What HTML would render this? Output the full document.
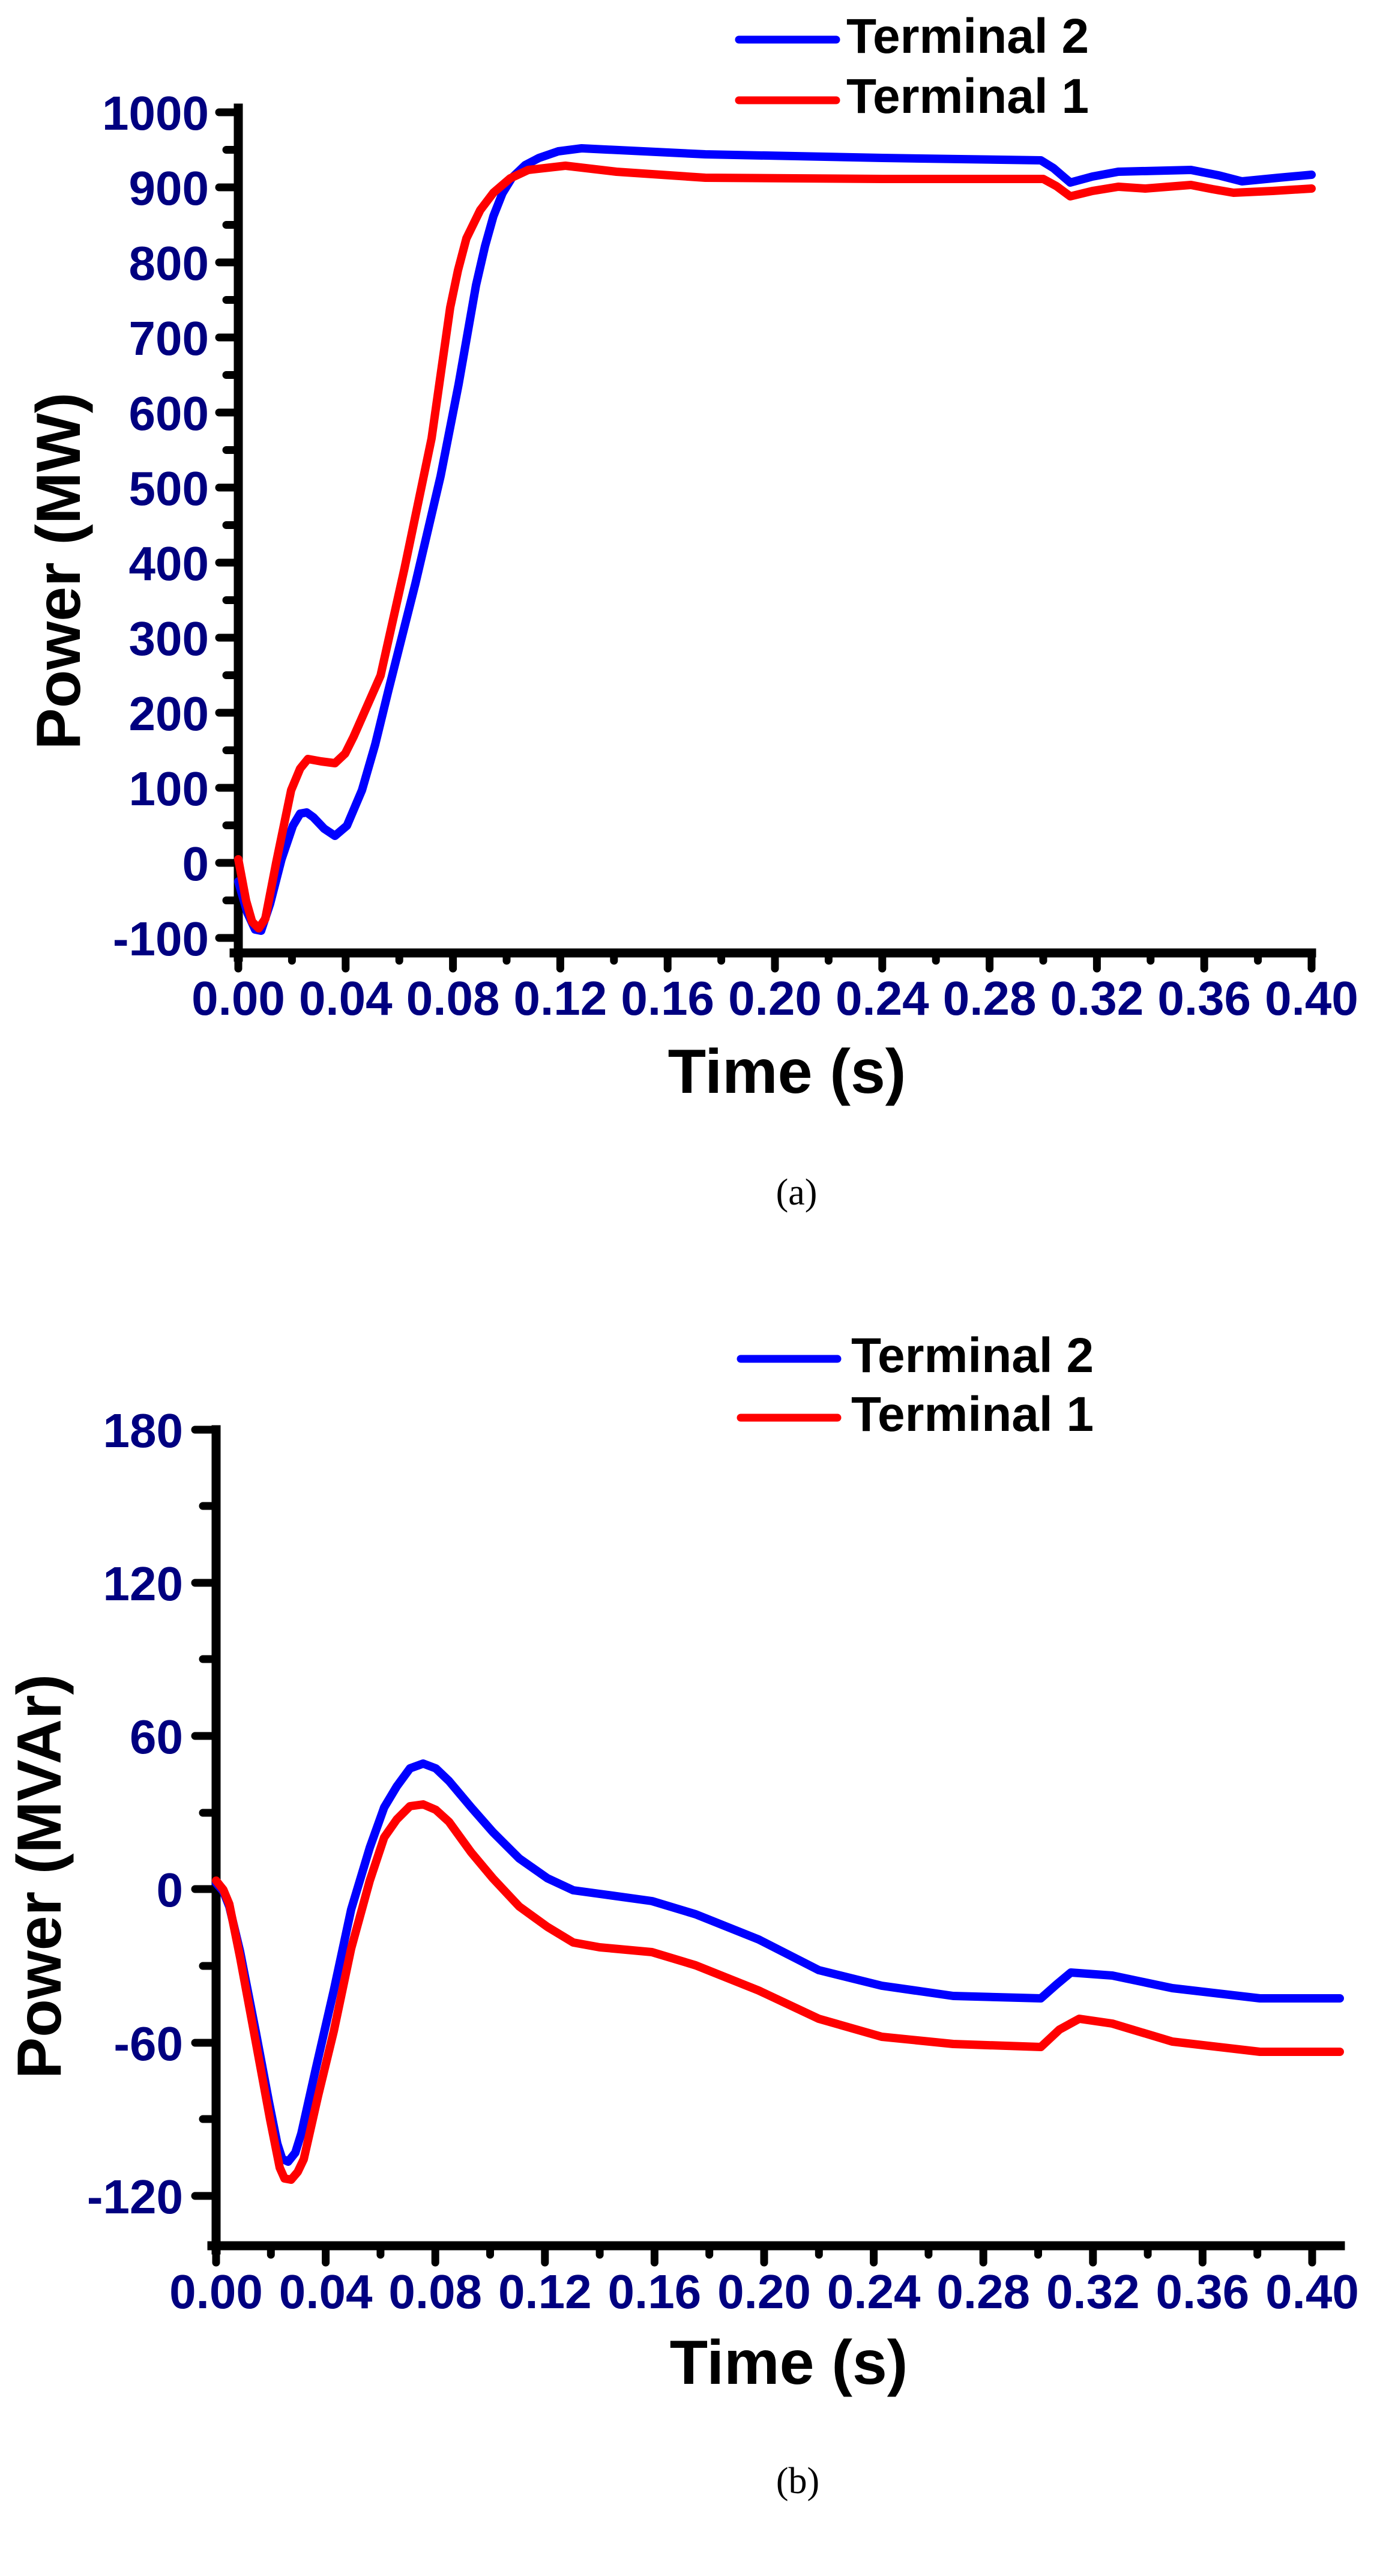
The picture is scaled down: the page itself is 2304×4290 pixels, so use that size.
<!DOCTYPE html>
<html><head><meta charset="utf-8"><style>
html,body{margin:0;padding:0;background:#fff;}
svg{display:block;}
.tl{font-family:"Liberation Sans",Arial,sans-serif;font-weight:bold;font-size:80px;fill:#000080;}
.ti{font-family:"Liberation Sans",Arial,sans-serif;font-weight:bold;font-size:104px;fill:#000;}
.lg{font-family:"Liberation Sans",Arial,sans-serif;font-weight:bold;font-size:82px;fill:#000;}
.cap{font-family:"Liberation Serif","Times New Roman",serif;font-size:62px;fill:#000;}
</style></head><body>
<svg width="2304" height="4290" viewBox="0 0 2304 4290" xmlns="http://www.w3.org/2000/svg">
<rect width="2304" height="4290" fill="#fff"/>
<!-- Chart A -->
<g stroke="#000" stroke-linecap="round" fill="none">
<path d="M397 180 V1594 M390 1587 H2185" stroke-width="15" stroke-linecap="square"/>
<path stroke-width="13" d="M397 1587V1613 M575.8 1587V1613 M754.6 1587V1613 M933.4 1587V1613 M1112.2 1587V1613 M1291 1587V1613 M1469.8 1587V1613 M1648.6 1587V1613 M1827.4 1587V1613 M2006.2 1587V1613 M2185 1587V1613
M486.4 1587V1600 M665.2 1587V1600 M844 1587V1600 M1022.8 1587V1600 M1201.6 1587V1600 M1380.4 1587V1600 M1559.2 1587V1600 M1738 1587V1600 M1916.8 1587V1600 M2095.6 1587V1600
M397 1562H365 M397 1437H365 M397 1312H365 M397 1187H365 M397 1062H365 M397 937H365 M397 812H365 M397 687H365 M397 562H365 M397 437H365 M397 312H365 M397 187H365
M397 1499.5H377 M397 1374.5H377 M397 1249.5H377 M397 1124.5H377 M397 999.5H377 M397 874.5H377 M397 749.5H377 M397 624.5H377 M397 499.5H377 M397 374.5H377 M397 249.5H377"/>
</g>
<g class="tl" text-anchor="end">
<text x="348" y="1591">-100</text><text x="348" y="1466">0</text><text x="348" y="1341">100</text><text x="348" y="1216">200</text><text x="348" y="1091">300</text><text x="348" y="966">400</text><text x="348" y="841">500</text><text x="348" y="716">600</text><text x="348" y="591">700</text><text x="348" y="466">800</text><text x="348" y="341">900</text><text x="348" y="216">1000</text>
</g>
<g class="tl" text-anchor="middle">
<text x="397" y="1690">0.00</text><text x="575.8" y="1690">0.04</text><text x="754.6" y="1690">0.08</text><text x="933.4" y="1690">0.12</text><text x="1112.2" y="1690">0.16</text><text x="1291" y="1690">0.20</text><text x="1469.8" y="1690">0.24</text><text x="1648.6" y="1690">0.28</text><text x="1827.4" y="1690">0.32</text><text x="2006.2" y="1690">0.36</text><text x="2185" y="1690">0.40</text>
</g>
<text class="ti" x="1311" y="1820" text-anchor="middle">Time (s)</text>
<text class="ti" transform="translate(133,951) rotate(-90)" text-anchor="middle">Power (MW)</text>
<g fill="none" stroke-width="14" stroke-linejoin="round" stroke-linecap="round">
<polyline stroke="#0000ff" points="397,1468 412,1520 425,1548 435,1550 450,1505 469,1431 488,1375 500,1355 511,1353 522,1361 540,1380 558,1392 578,1375 603,1316 625,1240 647,1150 692,972 734,793 764,640 793,475 808,410 822,360 837,322 853,296 875,275 898,263 930,252 969,247 1175,257 1470,263 1734,267 1755,280 1783,304 1820,294 1863,286 1984,283 2030,292 2069,302 2130,296 2185,291"/>
<polyline stroke="#ff0000" points="397,1431 410,1500 420,1535 431,1546 442,1530 460,1437 485,1316 500,1280 513,1264 535,1268 558,1271 575,1255 589,1227 634,1125 674,946 719,730 750,512 763,450 777,397 800,350 822,321 850,297 880,283 942,276 1027,286 1175,296 1470,298 1738,298 1760,310 1783,327 1820,318 1863,311 1908,314 1984,308 2020,315 2055,321 2120,318 2185,314"/>
</g>
<g stroke-width="13" stroke-linecap="round">
<line x1="1231" y1="66" x2="1393" y2="66" stroke="#0000ff"/>
<line x1="1231" y1="167" x2="1393" y2="167" stroke="#ff0000"/>
</g>
<text class="lg" x="1410" y="88">Terminal 2</text>
<text class="lg" x="1410" y="188">Terminal 1</text>
<text class="cap" x="1327" y="2006" text-anchor="middle">(a)</text>

<!-- Chart B -->
<g stroke="#000" stroke-linecap="round" fill="none">
<path d="M360 2381 V3747 M353 3740 H2233" stroke-width="15" stroke-linecap="square"/>
<path stroke-width="13" d="M360 3740V3768 M542.6 3740V3768 M725.2 3740V3768 M907.8 3740V3768 M1090.4 3740V3768 M1273 3740V3768 M1455.6 3740V3768 M1638.2 3740V3768 M1820.8 3740V3768 M2003.4 3740V3768 M2186 3740V3768
M451.3 3740V3755 M633.9 3740V3755 M816.5 3740V3755 M999.1 3740V3755 M1181.7 3740V3755 M1364.3 3740V3755 M1546.9 3740V3755 M1729.5 3740V3755 M1912.1 3740V3755 M2094.7 3740V3755
M360 3657H325 M360 3402H325 M360 3146H325 M360 2891H325 M360 2636H325 M360 2381H325
M360 3529H338 M360 3274H338 M360 3019H338 M360 2763H338 M360 2508H338"/>
</g>
<g class="tl" text-anchor="end">
<text x="305" y="3686">-120</text><text x="305" y="3431">-60</text><text x="305" y="3175">0</text><text x="305" y="2920">60</text><text x="305" y="2665">120</text><text x="305" y="2410">180</text>
</g>
<g class="tl" text-anchor="middle">
<text x="360" y="3844">0.00</text><text x="542.6" y="3844">0.04</text><text x="725.2" y="3844">0.08</text><text x="907.8" y="3844">0.12</text><text x="1090.4" y="3844">0.16</text><text x="1273" y="3844">0.20</text><text x="1455.6" y="3844">0.24</text><text x="1638.2" y="3844">0.28</text><text x="1820.8" y="3844">0.32</text><text x="2003.4" y="3844">0.36</text><text x="2186" y="3844">0.40</text>
</g>
<text class="ti" x="1314" y="3970" text-anchor="middle">Time (s)</text>
<text class="ti" transform="translate(101,3125) rotate(-90)" text-anchor="middle">Power (MVAr)</text>
<g fill="none" stroke-width="14" stroke-linejoin="round" stroke-linecap="round">
<polyline stroke="#0000ff" points="360,3136 372,3150 382,3175 400,3250 426,3383 448,3500 462,3570 470,3595 480,3600 492,3585 502,3553 525,3450 556,3315 585,3180 616,3077 640,3010 661,2975 683,2945 705,2937 726,2945 748,2966 785,3010 821,3051 865,3095 912,3128 955,3148 999,3154 1086,3166 1159,3188 1264,3230 1364,3281 1469,3307 1588,3324 1734,3328 1760,3305 1784,3285 1853,3290 1953,3311 2099,3328 2232,3328"/>
<polyline stroke="#ff0000" points="360,3132 372,3147 382,3171 400,3260 426,3400 450,3530 466,3610 474,3628 485,3630 496,3617 506,3596 530,3490 556,3383 585,3245 616,3132 640,3060 661,3030 683,3008 705,3005 726,3014 748,3034 785,3085 821,3128 865,3175 912,3209 955,3235 999,3243 1086,3251 1159,3273 1264,3315 1364,3362 1469,3392 1588,3404 1734,3409 1765,3380 1798,3362 1853,3370 1953,3400 2099,3417 2232,3417"/>
</g>
<g stroke-width="13" stroke-linecap="round">
<line x1="1234" y1="2263" x2="1395" y2="2263" stroke="#0000ff"/>
<line x1="1234" y1="2361" x2="1395" y2="2361" stroke="#ff0000"/>
</g>
<text class="lg" x="1418" y="2285">Terminal 2</text>
<text class="lg" x="1418" y="2383">Terminal 1</text>
<text class="cap" x="1329" y="4152" text-anchor="middle">(b)</text>
</svg>
</body></html>
